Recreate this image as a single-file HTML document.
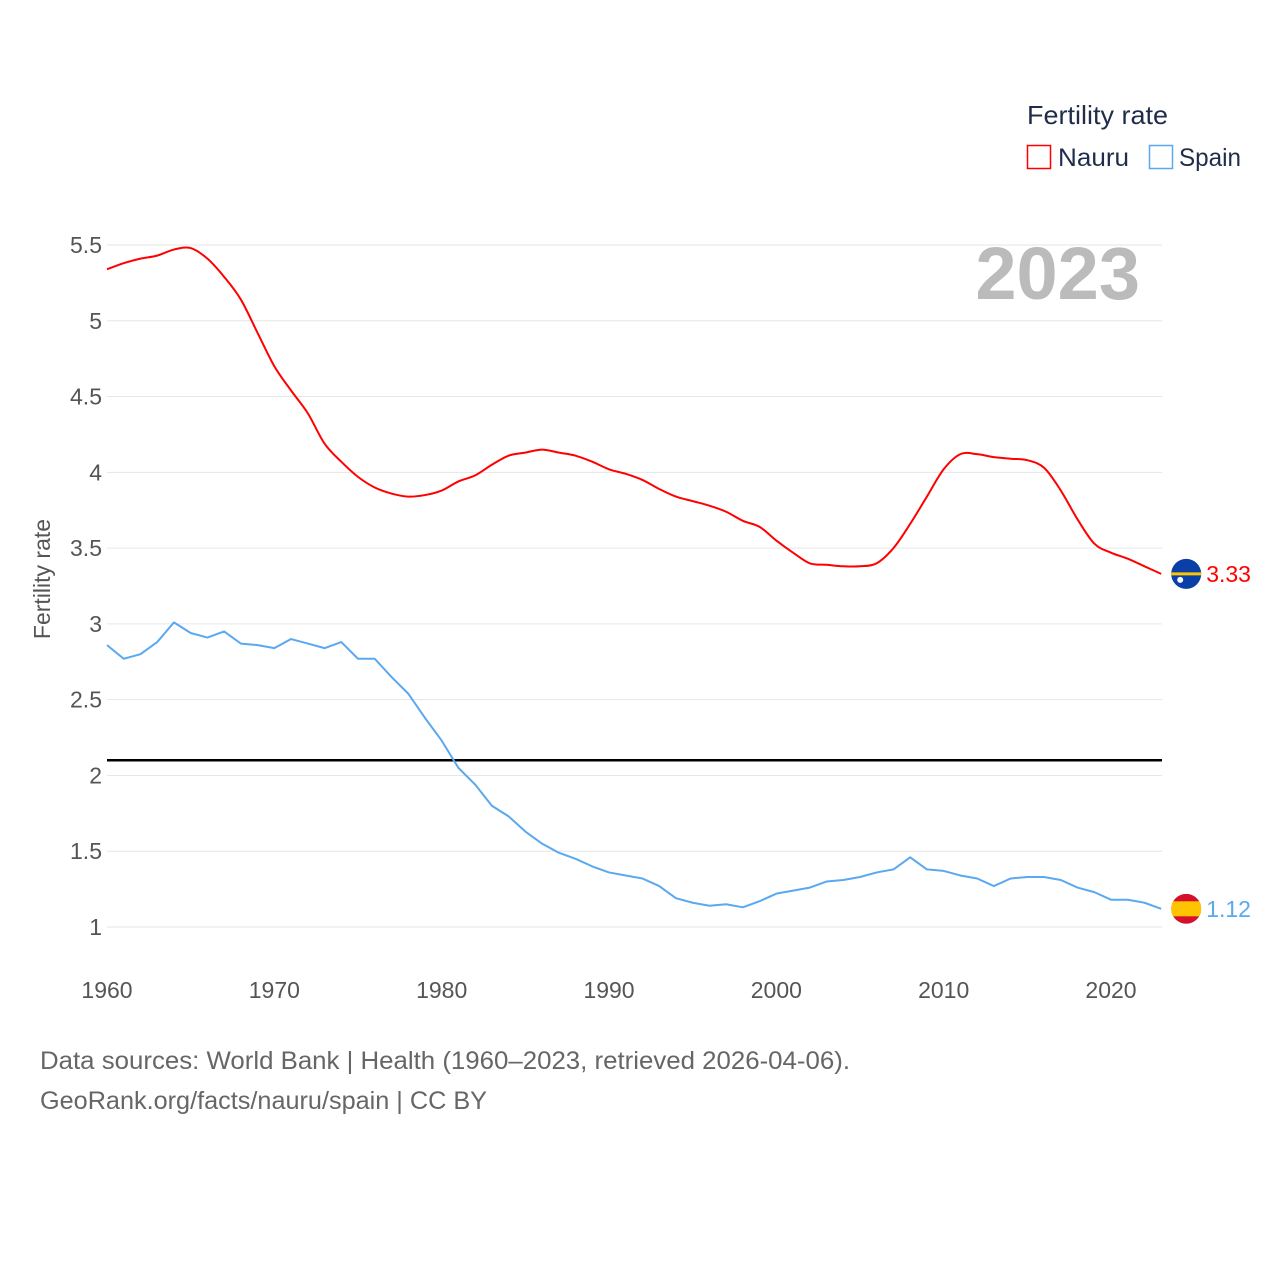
<!DOCTYPE html>
<html><head><meta charset="utf-8"><style>
html,body{margin:0;padding:0;background:#fff;}
body{width:1280px;height:1280px;overflow:hidden;font-family:"Liberation Sans",sans-serif;}
</style></head><body>
<svg id="chart" width="1280" height="1280" viewBox="0 0 1280 1280" xmlns="http://www.w3.org/2000/svg" font-family="Liberation Sans, sans-serif">
<g id="grid"></g>
<g id="yticks"></g>
<g id="xticks"></g>
<text x="50" y="579" transform="rotate(-90 50 579)" text-anchor="middle" font-size="23" fill="#555">Fertility rate</text>
<text x="1140" y="299" text-anchor="end" font-size="74" font-weight="bold" fill="#bbb">2023</text>
<g>
<text x="1027" y="124" font-size="26" fill="#1f2d4a" textLength="141" lengthAdjust="spacingAndGlyphs">Fertility rate</text>
<rect x="1027.5" y="145.5" width="23" height="23" fill="none" stroke="#ff0000" stroke-width="1.5"/>
<text x="1058" y="166" font-size="25" fill="#1f2d4a" textLength="71" lengthAdjust="spacingAndGlyphs">Nauru</text>
<rect x="1149.5" y="145.5" width="23" height="23" fill="none" stroke="#5aa8f0" stroke-width="1.5"/>
<text x="1179" y="166" font-size="25" fill="#1f2d4a" textLength="62" lengthAdjust="spacingAndGlyphs">Spain</text>
</g>
<g id="series"></g>
<text x="40" y="1069" font-size="25" fill="#666" textLength="810" lengthAdjust="spacingAndGlyphs">Data sources: World Bank | Health (1960–2023, retrieved 2026-04-06).</text>
<text x="40" y="1109" font-size="25" fill="#666" textLength="447" lengthAdjust="spacingAndGlyphs">GeoRank.org/facts/nauru/spain | CC BY</text>
</svg>
<script>
const years = Array.from({length:64},(_,i)=>1960+i);
const nauru = [5.34,5.38,5.41,5.43,5.47,5.48,5.41,5.29,5.14,4.92,4.70,4.54,4.39,4.19,4.07,3.97,3.90,3.86,3.84,3.85,3.88,3.94,3.98,4.05,4.11,4.13,4.15,4.13,4.11,4.07,4.02,3.99,3.95,3.89,3.84,3.81,3.78,3.74,3.68,3.64,3.55,3.47,3.40,3.39,3.38,3.38,3.40,3.50,3.66,3.84,4.02,4.12,4.12,4.10,4.09,4.08,4.03,3.88,3.69,3.53,3.47,3.43,3.38,3.33];
const spain = [2.86,2.77,2.80,2.88,3.01,2.94,2.91,2.95,2.87,2.86,2.84,2.90,2.87,2.84,2.88,2.77,2.77,2.65,2.54,2.38,2.23,2.05,1.94,1.80,1.73,1.63,1.55,1.49,1.45,1.40,1.36,1.34,1.32,1.27,1.19,1.16,1.14,1.15,1.13,1.17,1.22,1.24,1.26,1.30,1.31,1.33,1.36,1.38,1.46,1.38,1.37,1.34,1.32,1.27,1.32,1.33,1.33,1.31,1.26,1.23,1.18,1.18,1.16,1.12];
const yTicks = [1,1.5,2,2.5,3,3.5,4,4.5,5,5.5];
const yTickLabels = ["1","1.5","2","2.5","3","3.5","4","4.5","5","5.5"];
const xTicks = [1960,1970,1980,1990,2000,2010,2020];
const replacement = [2.1];

const NS="http://www.w3.org/2000/svg";
const X = yr => 107 + (yr-1960)*(1111-107)/60;
const Y = v => 927 - (v-1)*(927-245)/4.5;
function mk(tag, attrs, parent){const e=document.createElementNS(NS,tag);for(const k in attrs)e.setAttribute(k,attrs[k]);parent.appendChild(e);return e;}
const grid=document.getElementById('grid'), yt=document.getElementById('yticks'), xt=document.getElementById('xticks'), ser=document.getElementById('series');
yTicks.forEach((v,i)=>{
  const l=mk('line',{x1:107,x2:1162,y1:Y(v),y2:Y(v),stroke:'#e6e6e6','stroke-width':1},grid);
  
  
  const t=mk('text',{x:102,y:Y(v)+8,'text-anchor':'end','font-size':23,fill:'#555'},yt);
  t.textContent=yTickLabels[i];
  
  
});
xTicks.forEach(yr=>{
  const t=mk('text',{x:X(yr),y:998,'text-anchor':'middle','font-size':23,fill:'#555'},xt);
  t.textContent=yr;
  
  
});
const rl=mk('line',{x1:107,x2:1162,y1:Y(replacement[0]),y2:Y(replacement[0]),stroke:'#000','stroke-width':2.5},ser);


function smoothPath(pts){
  let d='M'+pts[0][0]+','+pts[0][1];
  for(let i=0;i<pts.length-1;i++){
    const p0=pts[i-1]||pts[i], p1=pts[i], p2=pts[i+1], p3=pts[i+2]||p2;
    const c1x=p1[0]+(p2[0]-p0[0])/6, c1y=p1[1]+(p2[1]-p0[1])/6;
    const c2x=p2[0]-(p3[0]-p1[0])/6, c2y=p2[1]-(p3[1]-p1[1])/6;
    d+=' C'+c1x+','+c1y+' '+c2x+','+c2y+' '+p2[0]+','+p2[1];
  }
  return d;
}
function drawLine(vals,color,name,smooth){
  const pts=vals.map((v,i)=>[X(years[i]),Y(v)]);
  let p;
  if(smooth) p=mk('path',{d:smoothPath(pts),fill:'none',stroke:color,'stroke-width':2,'stroke-linejoin':'round'},ser);
  else p=mk('polyline',{points:pts.map(q=>q.join(',')).join(' '),fill:'none',stroke:color,'stroke-width':2,'stroke-linejoin':'round'},ser);
  
  
}
drawLine(nauru,'#ff0000','nauru-line',true);
drawLine(spain,'#5aa8f0','spain-line',false);
const nv=nauru[nauru.length-1], sv=spain[spain.length-1], ex=X(years[years.length-1]);
const nf=mk('g',{},ser);


mk('circle',{cx:ex+25,cy:Y(nv),r:15,fill:'#0a3fa8'},nf);
mk('rect',{x:ex+10,y:Y(nv)-1.5,width:30,height:3,fill:'#ffc400'},nf);
mk('circle',{cx:ex+19,cy:Y(nv)+6,r:3,fill:'#fff'},nf);
const nl=mk('text',{x:ex+45,y:Y(nv)+8,'font-size':23,fill:'#ff0000'},ser);
nl.textContent=nv.toFixed(2);


const sf=mk('g',{},ser);


mk('clipPath',{id:'sc'},sf);
mk('circle',{cx:ex+25,cy:Y(sv),r:15},document.getElementById('sc'));
mk('rect',{x:ex+10,y:Y(sv)-15,width:30,height:30,fill:'#d5102a','clip-path':'url(#sc)'},sf);
mk('rect',{x:ex+10,y:Y(sv)-7.5,width:30,height:15,fill:'#ffc400','clip-path':'url(#sc)'},sf);
const sl=mk('text',{x:ex+45,y:Y(sv)+8,'font-size':23,fill:'#5aa8f0'},ser);
sl.textContent=sv.toFixed(2);


</script>
</body></html>
